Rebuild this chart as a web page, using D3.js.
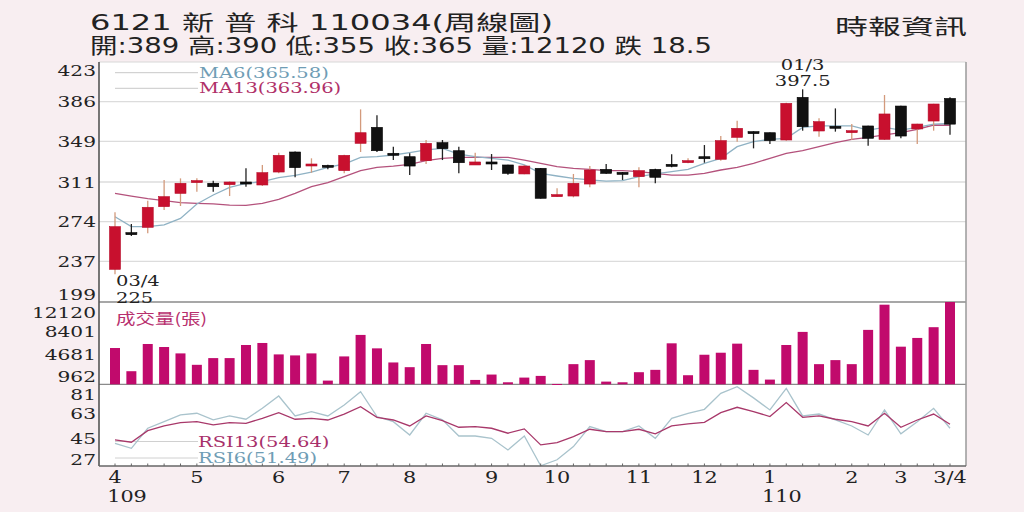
<!DOCTYPE html>
<html>
<head>
<meta charset="utf-8">
<script src="https://cdn.jsdelivr.net/npm/d3@7"></script>
<style>
  html, body { margin: 0; padding: 0; background: #f8eef1; }
  svg { display: block; }
  text { font-family: "DejaVu Serif", "Noto Sans CJK TC", serif; fill: #222; }
</style>
</head>
<body>
<div id="chart"></div>
<script>
// weekly candles, 109/03 .. 110/03/04
const openVals  = [229.5,263.7,268.7,288,300.4,311.5,309.8,308.5,311,308.2,320.3,339,327.2,326.6,321.6,347.1,362,337.8,334.6,330.9,347.7,340.2,326.9,329.7,326.9,318.5,323.8,297.3,297.9,309.1,322.8,320,316,322.8,327.5,330.3,334.6,332.2,352.7,358,357,350.2,390,358.6,363,358.3,363.3,350.8,381.9,360.5,367.9,389];
const highVals  = [282.7,271.8,293.6,312.9,314.4,314.4,312.2,311.5,323.8,326.9,338.4,339.5,333.1,327.2,336.5,378.8,373.2,344,337.8,350.2,350.2,344,338.4,337.1,327.2,326.9,324,305.1,318.5,325.9,327.8,320.3,324.7,323.4,336.8,333.1,345.5,353.9,368.2,358.3,357.3,385,397.5,370.4,379.7,365.1,363.6,392.2,382.2,365.4,384,390];
const lowVals   = [225,260.6,263.1,284.9,288.6,302,302,297.9,306.6,307.3,319.1,315.4,319.7,322.8,319.1,339,339,331.5,317.5,327.8,331.5,319.1,326.9,322.2,317.8,318.2,295.5,297,296.7,306,318.8,312.9,306,309.8,324.7,328.4,329,330.9,348.6,342.4,346.5,349.5,358.9,353.3,358,350.2,344.9,350.2,351.8,346.5,358.9,355];
const closeVals = [269.3,263.2,287.4,297.3,309.8,312.3,306.6,311,309.1,319.7,335.9,324.4,327.8,325.3,335.9,357,340.2,336.9,325.9,347.1,342.1,329,329.7,327.8,319.1,325.9,295.8,299.2,309.8,322.2,319.1,319.1,321.6,315.4,326.6,330.9,333.4,349.6,361.1,356.4,349.6,384.4,362.6,367.3,362,358.9,351.8,374.5,353.9,365.1,383.8,365];
const volumeVals = [5343,1929,5936,5491,4551,2869,3859,3859,5788,6085,4403,4254,4551,544,4106,7272,5293,3216,2523,5936,2820,2820,643,1435,297,989,1237,50,2968,3562,396,297,1781,2127,6035,1336,4353,4650,5986,2127,693,5788,7717,2968,3562,2968,8014,11724,5541,6827,8410,12120];
const ma6Vals  = [278.6,269.3,269.3,270.9,277,290.5,298.9,306,309.8,311.3,315,317.2,320.3,324.7,327.8,334,334.6,336.2,338.4,340.9,342.4,337.1,334.6,333.1,331.5,326.9,319.1,316.6,314.4,312.9,311.9,312.2,316,318.5,320.6,322.8,328.4,333.1,344,348.6,350.8,351.8,362,363.3,363.3,363.3,359.5,362,359.5,362,365.1,365.58];
const ma13Vals = [300.4,297.9,295.4,293.6,291.7,291.1,290.5,289.5,289.2,291.1,294.8,300.4,306.6,310.4,316,321.6,324.7,325.9,327.5,330.9,333.1,334,334,334,334,331.5,328.4,325.3,323.8,322.8,321.6,321.6,320.6,319.1,317.5,317.5,319.1,322.2,324.7,328.4,333.1,337.8,340.2,344,347.7,350.8,352.7,354.9,357,360.2,364.2,363.96];
const rsi13Vals = [42.3,40.5,49.6,53.3,55.9,56.7,54.1,55.9,55.4,59.3,63.8,58.6,59.3,58,62.7,68.5,60.1,58,53.3,61.2,57.5,52.3,52.8,51.5,47.6,51,38.4,40.2,44.9,50.7,48.9,48.9,50.7,47.1,53.3,54.9,56.2,63.8,68,64.6,60.7,71.7,60.1,61.2,58.6,56.7,53.3,63.3,52.3,58,62.7,54.64];
const rsi6Vals  = [39.7,35.7,51.5,56.7,62,63.3,58.1,61.2,58.6,67.2,76.9,61.2,64.6,61.2,69.8,80.3,60.7,56.7,46.2,63.3,58.1,45.4,45.4,43.6,34.4,45.4,22,26.7,37.1,52.8,48.9,48.9,53.3,43.6,59.3,63.3,66.4,79,84.2,75.4,65.9,82.9,61.2,62.7,58.1,53.3,46.2,65.9,47.1,56.7,67.2,51.49];

// axis labels
const priceTicks = [199,237,274,311,349,386,423];
const volumeTicks = [962,4681,8401,12120];
const rsiTicks = [27,45,63,81];
const monthLabels = ['4','5','6','7','8','9','10','11','12','1','2','3','3/4'];
const monthWeeks  = [0,5,10,14,18,23,27,32,36,40,45,48,51];
const yearLabels = ['109','110'];
const yearWeeks  = [0,40];

const titleText = '6121  新 普 科 110034(周線圖)';
const infoText = '開:389 高:390 低:355 收:365 量:12120 跌 18.5';
const sourceText = '時報資訊';

const W = 1024, H = 512;
const left = 99, right = 966;
const priceTop = 62, priceBottom = 302, volBottom = 384.3, rsiBottom = 466;
const stretch = 1.3;   // the original chart is drawn wide

const svg = d3.select('#chart').append('svg')
    .attr('width', W)
    .attr('height', H);

const n = closeVals.length;
const x = d3.scaleLinear().domain([0, n - 1]).range([115, 950]);
const yPrice = d3.scaleLinear().domain([199, 423]).range([priceBottom, priceTop]);
const yVol = d3.scaleLinear().domain([0, 12120]).range([volBottom, priceBottom]);
const yRsi = d3.scaleLinear().domain([21.8, 86.1]).range([rsiBottom, volBottom]);

// put a text at (px,py) stretched horizontally
function wideText(px, py, str, opts = {}) {
    const t = svg.append('text')
        .attr('transform', `translate(${px},${py}) scale(${opts.sx || stretch},1)`)
        .attr('text-anchor', opts.anchor || 'start')
        .attr('dominant-baseline', 'central')
        .style('font-size', (opts.size || 16) + 'px')
        .text(str);
    if (opts.color) t.style('fill', opts.color);
    if (opts.family) t.style('font-family', opts.family);
    return t;
}

// plot area
svg.append('rect')
    .attr('x', left).attr('y', priceTop)
    .attr('width', right - left).attr('height', rsiBottom - priceTop)
    .attr('fill', '#fff');

// price gridlines
svg.append('g')
    .selectAll('line')
    .data(priceTicks.slice(1, -1))
    .join('line')
    .attr('x1', left).attr('x2', right)
    .attr('y1', d => yPrice(d)).attr('y2', d => yPrice(d))
    .attr('stroke', '#dcdcdc')
    .attr('stroke-width', 1.3);

// panel borders
svg.append('line').attr('x1', left).attr('x2', right).attr('y1', priceTop).attr('y2', priceTop)
    .attr('stroke', '#d8d8d8').attr('stroke-width', 1.2);
[priceBottom, volBottom].forEach(yy => {
    svg.append('line').attr('x1', left).attr('x2', right).attr('y1', yy).attr('y2', yy)
        .attr('stroke', '#8a8a8a').attr('stroke-width', 1.3);
});
svg.append('line').attr('x1', right).attr('x2', right).attr('y1', priceTop).attr('y2', rsiBottom)
    .attr('stroke', '#9a9a9a').attr('stroke-width', 1.5);

// legend guide lines
const legendLines = [
    { y: 72.7, color: '#c8c8c8' },
    { y: 88.3, color: '#c8c8c8' },
    { y: 441.5, color: '#d0d0d0' },
    { y: 458, color: '#d0d0d0' }
];
svg.append('g').selectAll('line')
    .data(legendLines)
    .join('line')
    .attr('x1', 115).attr('x2', 198)
    .attr('y1', d => d.y).attr('y2', d => d.y)
    .attr('stroke', d => d.color)
    .attr('stroke-width', 1);

// moving averages
const line = vals => d3.line().x((d, i) => x(i)).y(d => yPrice(d))(vals);
svg.append('path').attr('d', line(ma13Vals))
    .attr('fill', 'none').attr('stroke', '#b4527c').attr('stroke-width', 1.3);
svg.append('path').attr('d', line(ma6Vals))
    .attr('fill', 'none').attr('stroke', '#8fb2c4').attr('stroke-width', 1.3);

// candles
const bodyW = 11;
const candles = svg.append('g').selectAll('g')
    .data(closeVals.map((c, i) => ({ i, o: openVals[i], h: highVals[i], l: lowVals[i], c })))
    .join('g');

candles.append('line')
    .attr('x1', d => x(d.i)).attr('x2', d => x(d.i))
    .attr('y1', d => yPrice(d.h)).attr('y2', d => yPrice(d.l))
    .attr('stroke', d => d.c >= d.o ? '#d39a7c' : '#222')
    .attr('stroke-width', 1.3);

candles.append('rect')
    .attr('x', d => x(d.i) - bodyW / 2)
    .attr('width', bodyW)
    .attr('y', d => yPrice(Math.max(d.o, d.c)))
    .attr('height', d => Math.max(2, Math.abs(yPrice(d.o) - yPrice(d.c))))
    .attr('fill', d => d.c >= d.o ? '#c8102e' : '#111')
    .attr('stroke', d => d.c >= d.o ? '#b80d2a' : '#000')
    .attr('stroke-width', 0.6);

// volume bars
svg.append('g').selectAll('rect')
    .data(volumeVals)
    .join('rect')
    .attr('x', (d, i) => x(i) - 5)
    .attr('width', 10)
    .attr('y', d => yVol(d))
    .attr('height', d => Math.max(1, volBottom - yVol(d)))
    .attr('fill', '#c10a6c');

// rsi lines
const rsiLine = vals => d3.line().x((d, i) => x(i)).y(d => yRsi(d))(vals);
svg.append('path').attr('d', rsiLine(rsi6Vals))
    .attr('fill', 'none').attr('stroke', '#a9c3cc').attr('stroke-width', 1.3);
svg.append('path').attr('d', rsiLine(rsi13Vals))
    .attr('fill', 'none').attr('stroke', '#a8386a').attr('stroke-width', 1.3);

// left axis line
svg.append('line').attr('x1', left).attr('x2', left).attr('y1', priceTop).attr('y2', rsiBottom)
    .attr('stroke', '#555').attr('stroke-width', 1.6);
// bottom axis line
svg.append('line').attr('x1', left).attr('x2', right).attr('y1', rsiBottom).attr('y2', rsiBottom)
    .attr('stroke', '#666').attr('stroke-width', 1.4);

// small weekly ticks on the x axis
svg.append('g').selectAll('line')
    .data(d3.range(n))
    .join('line')
    .attr('x1', i => x(i)).attr('x2', i => x(i))
    .attr('y1', rsiBottom).attr('y2', rsiBottom - 2.5)
    .attr('stroke', '#666').attr('stroke-width', 1);

// y tick labels (price, volume, rsi)
const priceNudge = { 199: -7.5, 423: 8 };
priceTicks.forEach(v => {
    wideText(96, yPrice(v) + (priceNudge[v] || 0), v, { anchor: 'end', size: 15.5 });
});
const volNudge = { 12120: 8.5, 8401: 2, 962: -3 };
volumeTicks.forEach(v => {
    wideText(96, yVol(v) + (volNudge[v] || 0) + 2, v, { anchor: 'end', size: 15.5 });
});
const rsiNudge = { 81: 3.5, 45: 2 };
rsiTicks.forEach(v => {
    wideText(96, yRsi(v) + (rsiNudge[v] || 0), v, { anchor: 'end', size: 15.5 });
});

// month labels
monthLabels.forEach((m, k) => {
    wideText(x(monthWeeks[k]), 477, m, { anchor: 'middle', size: 16 });
});
yearLabels.forEach((yl, k) => {
    wideText(x(yearWeeks[k]) + 12, 496, yl, { anchor: 'middle', size: 16 });
});

// legends
wideText(199, 72.7, 'MA6(365.58)', { size: 15, color: '#6f9db5' });
wideText(199, 88.3, 'MA13(363.96)', { size: 15, color: '#b03068' });
wideText(116, 318, '成交量(張)', { size: 15, color: '#b8306e', family: '"Noto Sans CJK TC", "DejaVu Serif", serif' });
wideText(198, 441.5, 'RSI13(54.64)', { size: 15, color: '#a8306a' });
wideText(198, 458, 'RSI6(51.49)', { size: 15, color: '#6f9db5' });

// high / low markers
const lowIdx = d3.minIndex(lowVals);
const highIdx = d3.maxIndex(highVals);
wideText(x(lowIdx) + 1, 281, '03/4', { size: 15 });
wideText(x(lowIdx) + 1, 297.5, '225', { size: 15 });
wideText(x(highIdx), 65, '01/3', { anchor: 'middle', size: 15 });
wideText(x(highIdx), 81, '397.5', { anchor: 'middle', size: 15 });

// header
const sansCjk = '"DejaVu Sans", "Noto Sans CJK TC", sans-serif';
svg.append('text')
    .attr('x', 90).attr('y', 30)
    .attr('textLength', 463).attr('lengthAdjust', 'spacingAndGlyphs')
    .style('font-family', sansCjk).style('font-size', '21px').style('fill', '#222')
    .text(titleText);
svg.append('text')
    .attr('x', 90).attr('y', 53)
    .attr('textLength', 622).attr('lengthAdjust', 'spacingAndGlyphs')
    .style('font-family', sansCjk).style('font-size', '21px').style('fill', '#222')
    .text(infoText);
svg.append('text')
    .attr('x', 835).attr('y', 34)
    .attr('textLength', 132).attr('lengthAdjust', 'spacingAndGlyphs')
    .style('font-family', '"Noto Sans CJK TC", sans-serif').style('font-size', '21px').style('fill', '#222')
    .text(sourceText);
</script>
</body>
</html>
